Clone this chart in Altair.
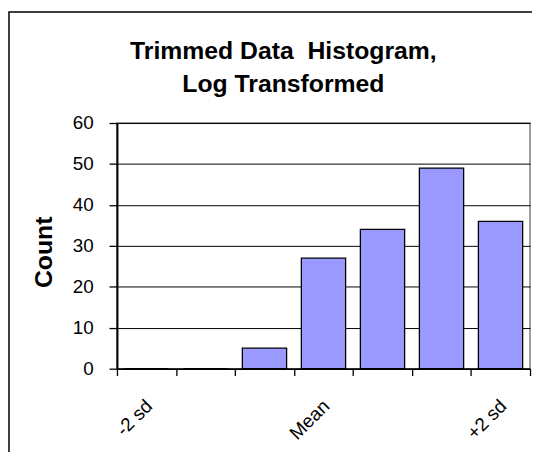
import json
import altair as alt
import pandas as pd

# Data
bins = [1, 2, 3, 4, 5, 6, 7]
counts = [0, 0, 5, 27, 34, 49, 36]
tick_labels = ["-2 sd", "", "", "Mean", "", "", "+2 sd"]
y_ticks = [0, 10, 20, 30, 40, 50, 60]
title_lines = ["Trimmed Data\u00a0 Histogram,", "Log Transformed"]

df = pd.DataFrame({"bin": bins, "count": counts})

FONT = "Liberation Sans, Arial, sans-serif"
label_expr = f"{json.dumps(tick_labels)}[datum.value - 1]"

bars = alt.Chart(df).mark_bar(
    color="#9999FF", stroke="black", strokeWidth=1.3,
    width=alt.RelativeBandSize(0.75),
).encode(
    x=alt.X(
        "bin:O",
        sort=bins,
        scale=alt.Scale(paddingInner=0, paddingOuter=0),
        axis=alt.Axis(
            title=None,
            labelExpr=label_expr,
            labelAngle=-45,
            labelAlign="right",
            labelBaseline="top",
            labelPadding=21,
            labelOffset=-4,
            labelFontSize=19,
            labelFont=FONT,
            labelColor="black",
            tickBand="extent",
            tickSize=7,
            tickColor="black",
            tickWidth=1.3,
            domainColor="black",
            domainWidth=1.5,
            grid=False,
        ),
    ),
    y=alt.Y(
        "count:Q",
        scale=alt.Scale(domain=[0, 60], nice=False),
        axis=alt.Axis(
            title="Count",
            values=y_ticks,
            titleFont=FONT,
            titleFontSize=25,
            titleFontWeight="bold",
            titleColor="black",
            titleAngle=270,
            titleAlign="center",
            titleBaseline="alphabetic",
            titleX=-66,
            titleY=130,
            labelFont=FONT,
            labelFontSize=19,
            labelColor="black",
            labelPadding=16,
            tickSize=8,
            tickColor="black",
            tickWidth=1.3,
            domainColor="black",
            domainWidth=2,
            grid=True,
            gridColor="black",
            gridWidth=1,
        ),
    ),
)

frame = alt.Chart(alt.Data(values=[{}])).mark_rect(
    fill=None, stroke="black", strokeWidth=1.5
).encode(
    x=alt.value(-109),
    y=alt.value(-112),
    x2=alt.value(700),
    y2=alt.value(700),
)

title = alt.Chart(alt.Data(values=[{"t": title_lines}])).mark_text(
    font=FONT, fontSize=25, fontWeight="bold", color="black",
    align="center", baseline="alphabetic", lineHeight=33,
).encode(
    text="t:N",
    x=alt.value(168),
    y=alt.value(-64.5),
)

chart = alt.layer(frame, title, bars).properties(
    width=417,
    height=248,
    autosize=alt.AutoSizeParams(type="none"),
    padding={"left": 110, "top": 114, "right": 2, "bottom": 82},
).configure_view(stroke="#808080", strokeWidth=1.5)

chart.save("out.html", embed_options={"renderer": "svg", "actions": False})
